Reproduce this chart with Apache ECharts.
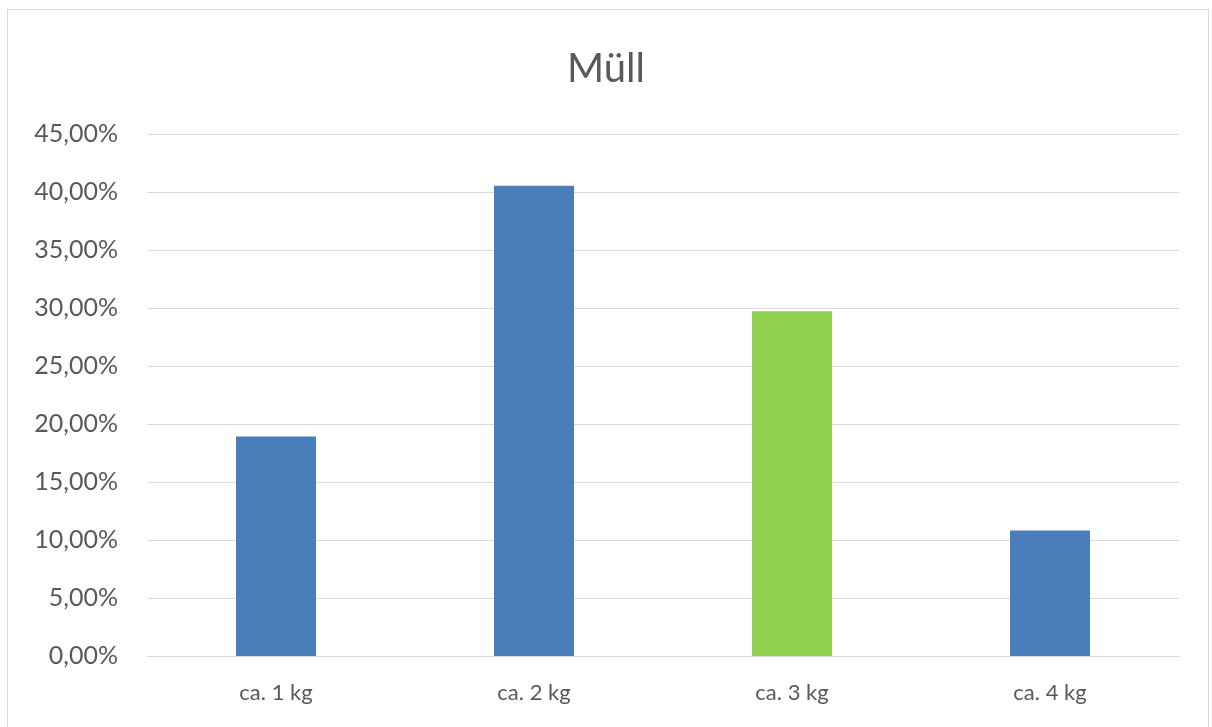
<!DOCTYPE html>
<html>
<head>
<meta charset="utf-8">
<script src="https://cdn.jsdelivr.net/npm/echarts@6/dist/echarts.min.js"></script>
<style>
  html, body { margin: 0; padding: 0; background: #ffffff; }
  #frame { position: absolute; left: 7px; top: 9px; width: 1202px; height: 730px; border: 1px solid #d9d9d9; box-sizing: border-box; }
  #chart { position: absolute; left: 0; top: 0; width: 1212px; height: 727px; }
</style>
</head>
<body>
<div id="frame"></div>
<div id="chart"></div>
<script>
// Waste amount per household (share of responses)
const categories = ['ca. 1 kg', 'ca. 2 kg', 'ca. 3 kg', 'ca. 4 kg'];
const shares = [18.92, 40.54, 29.73, 10.81];
const barColors = ['#4a7ebb', '#4a7ebb', '#8fd14f', '#4a7ebb'];
const yTicks = [0, 5, 10, 15, 20, 25, 30, 35, 40, 45];

const font = 'Lato, "Open Sans", sans-serif';
const chart = echarts.init(document.getElementById('chart'), null, { renderer: 'canvas' });

chart.setOption({
  animation: false,
  title: {
    text: 'Müll',
    left: 'center',
    top: 44,
    textStyle: { fontFamily: font, fontSize: 40, fontWeight: 'normal', color: '#595959' }
  },
  grid: { left: 147, right: 33, top: 134, bottom: 71, containLabel: false },
  xAxis: {
    type: 'category',
    data: categories,
    axisLine: { show: true, lineStyle: { color: '#d9d9d9', width: 1 } },
    axisTick: { show: false },
    axisLabel: { fontFamily: font, fontSize: 22, color: '#595959', margin: 26 }
  },
  yAxis: {
    type: 'value',
    min: yTicks[0],
    max: yTicks[yTicks.length - 1],
    interval: 5,
    axisLine: { show: false },
    axisTick: { show: false },
    splitLine: { lineStyle: { color: '#d9d9d9', width: 1 } },
    axisLabel: {
      fontFamily: font, fontSize: 25, color: '#595959', margin: 29,
      formatter: v => v.toFixed(2).replace('.', ',') + '%'
    }
  },
  series: [{
    type: 'bar',
    data: shares.map((v, i) => ({ value: v, itemStyle: { color: barColors[i] } })),
    barWidth: '31%'
  }]
});
</script>
</body>
</html>
